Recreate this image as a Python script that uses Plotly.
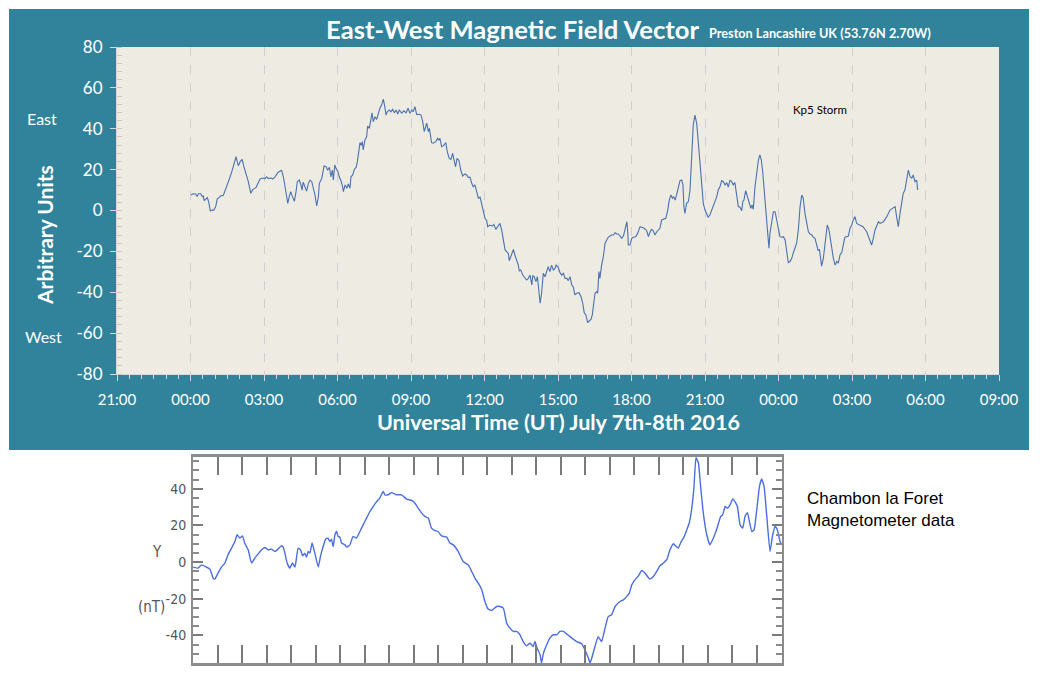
import plotly.graph_objects as go
import pandas as pd

# target page is 1041x678; the html body adds an 8px margin, so the figure is 16px smaller
OFF = 8
W, H = 1041 - 2 * OFF, 678 - 2 * OFF

# ---------------- data: Preston magnetometer (hours after 00:00 UT 7 July 2016) ----------------
top_hours = [
    0.02, 0.11, 0.21, 0.27, 0.32, 0.42, 0.48, 0.52, 0.56, 0.63,
    0.69, 0.74, 0.81, 0.87, 0.95, 1.03, 1.09, 1.16, 1.23, 1.34,
    1.41, 1.52, 1.60, 1.68, 1.76, 1.86, 1.91, 1.95, 2.03, 2.11,
    2.17, 2.28, 2.36, 2.46, 2.54, 2.60, 2.67, 2.74, 2.84, 2.95,
    3.04, 3.11, 3.18, 3.29, 3.36, 3.45, 3.58, 3.72, 3.79, 3.87,
    3.94, 3.97, 4.03, 4.09, 4.16, 4.24, 4.31, 4.36, 4.44, 4.51,
    4.55, 4.60, 4.67, 4.74, 4.81, 4.88, 4.95, 5.01, 5.08, 5.15,
    5.22, 5.26, 5.36, 5.45, 5.53, 5.60, 5.67, 5.73, 5.79, 5.83,
    5.89, 5.94, 6.02, 6.07, 6.13, 6.20, 6.24, 6.31, 6.38, 6.44,
    6.51, 6.55, 6.62, 6.69, 6.76, 6.81, 6.87, 6.92, 6.97, 7.01,
    7.05, 7.12, 7.19, 7.23, 7.30, 7.37, 7.41, 7.46, 7.53, 7.60,
    7.67, 7.73, 7.80, 7.87, 7.93, 7.98, 8.03, 8.11, 8.18, 8.25,
    8.32, 8.39, 8.46, 8.52, 8.62, 8.71, 8.80, 8.88, 8.96, 9.04,
    9.09, 9.16, 9.23, 9.34, 9.41, 9.48, 9.54, 9.64, 9.71, 9.75,
    9.84, 9.91, 10.01, 10.09, 10.14, 10.18, 10.25, 10.32, 10.42, 10.48,
    10.56, 10.63, 10.70, 10.77, 10.82, 10.88, 10.96, 11.03, 11.11, 11.20,
    11.27, 11.34, 11.41, 11.48, 11.54, 11.61, 11.68, 11.75, 11.82, 11.89,
    11.95, 12.02, 12.09, 12.13, 12.22, 12.32, 12.38, 12.46, 12.54, 12.63,
    12.70, 12.77, 12.84, 12.91, 12.97, 13.01, 13.08, 13.18, 13.24, 13.31,
    13.38, 13.42, 13.48, 13.56, 13.65, 13.72, 13.79, 13.86, 13.93, 13.97,
    14.03, 14.10, 14.16, 14.22, 14.27, 14.33, 14.40, 14.47, 14.54, 14.60,
    14.67, 14.74, 14.81, 14.88, 14.92, 15.01, 15.08, 15.15, 15.22, 15.29,
    15.36, 15.42, 15.49, 15.56, 15.62, 15.69, 15.76, 15.86, 15.94, 16.01,
    16.07, 16.14, 16.21, 16.28, 16.35, 16.40, 16.46, 16.51, 16.58, 16.62,
    16.67, 16.71, 16.78, 16.85, 16.92, 16.99, 17.05, 17.12, 17.19, 17.26,
    17.33, 17.40, 17.46, 17.53, 17.60, 17.67, 17.74, 17.81, 17.85, 17.87,
    17.94, 18.01, 18.07, 18.17, 18.25, 18.35, 18.42, 18.52, 18.62, 18.69,
    18.76, 18.82, 18.89, 18.96, 19.03, 19.09, 19.16, 19.23, 19.30, 19.40,
    19.48, 19.54, 19.61, 19.67, 19.72, 19.78, 19.84, 19.91, 19.98, 20.05,
    20.10, 20.14, 20.18, 20.25, 20.32, 20.39, 20.46, 20.52, 20.59, 20.66,
    20.73, 20.80, 20.87, 20.93, 21.00, 21.07, 21.13, 21.20, 21.27, 21.34,
    21.41, 21.48, 21.54, 21.61, 21.68, 21.75, 21.82, 21.89, 21.95, 22.02,
    22.09, 22.15, 22.22, 22.29, 22.36, 22.43, 22.50, 22.54, 22.59, 22.66,
    22.73, 22.80, 22.87, 22.92, 22.97, 23.04, 23.11, 23.18, 23.24, 23.30,
    23.36, 23.42, 23.49, 23.56, 23.61, 23.65, 23.72, 23.79, 23.86, 23.93,
    23.99, 24.06, 24.13, 24.20, 24.27, 24.33, 24.40, 24.47, 24.54, 24.60,
    24.67, 24.74, 24.81, 24.88, 24.95, 25.01, 25.08, 25.15, 25.22, 25.29,
    25.36, 25.42, 25.49, 25.56, 25.62, 25.67, 25.72, 25.76, 25.83, 25.90,
    25.99, 26.06, 26.13, 26.17, 26.24, 26.31, 26.38, 26.44, 26.51, 26.58,
    26.64, 26.71, 26.78, 26.85, 26.92, 26.99, 27.05, 27.12, 27.19, 27.33,
    27.45, 27.60, 27.73, 27.80, 27.87, 27.94, 28.08, 28.15, 28.28, 28.42,
    28.55, 28.66, 28.76, 28.82, 28.89, 28.96, 29.03, 29.09, 29.16, 29.23,
    29.30, 29.37, 29.44, 29.50, 29.57, 29.64, 29.68,
]
top_values = [
    7.6, 8.2, 8.1, 6.8, 8.2, 8.2, 6.8, 7.1, 4.8, 5.5,
    6.3, 4.2, -0.2, 0.2, 0.2, 1.9, 5.6, 6.3, 7.1, 7.4,
    9.5, 12.8, 15.9, 18.8, 21.8, 26.3, 23.9, 21.9, 23.9, 25.0,
    21.8, 17.9, 14.1, 8.4, 10.2, 10.7, 11.2, 13.0, 15.4, 15.9,
    15.6, 16.5, 15.6, 15.9, 15.4, 16.5, 18.7, 19.7, 16.5, 10.9,
    6.0, 3.5, 6.8, 9.2, 6.8, 4.5, 9.5, 14.1, 14.9, 12.5,
    10.0, 13.9, 11.6, 9.5, 13.3, 14.9, 14.1, 11.6, 7.6, 2.2,
    6.8, 13.3, 15.8, 21.8, 21.4, 19.8, 21.1, 16.5, 19.8, 14.9,
    22.3, 20.6, 19.0, 16.5, 14.9, 12.0, 9.2, 12.5, 10.9, 13.0,
    10.9, 16.5, 17.4, 20.2, 21.1, 23.9, 28.8, 33.2, 31.9, 33.7,
    29.6, 34.5, 36.1, 41.3, 40.2, 45.1, 47.8, 43.4, 45.9, 44.6,
    47.6, 50.0, 51.6, 54.5, 50.8, 46.7, 48.3, 49.2, 48.3, 49.5,
    47.8, 49.2, 47.2, 49.2, 47.6, 48.8, 47.8, 50.0, 47.6, 49.2,
    48.3, 50.8, 47.0, 47.1, 46.7, 43.4, 38.6, 42.7, 38.6, 40.2,
    33.2, 32.9, 33.7, 35.3, 34.5, 35.3, 31.2, 31.6, 33.2, 28.8,
    25.5, 25.0, 28.0, 23.9, 21.4, 25.5, 24.4, 19.8, 16.9, 17.9,
    17.4, 16.2, 16.2, 13.3, 11.6, 12.5, 8.4, 6.0, 6.5, 2.7,
    -0.1, -3.8, -5.0, -7.9, -7.1, -7.6, -6.8, -9.2, -7.9, -6.3,
    -9.5, -15.0, -19.3, -20.2, -21.0, -24.6, -22.6, -19.0, -21.8, -24.2,
    -26.7, -29.5, -29.1, -31.6, -33.2, -34.0, -33.2, -31.6, -36.4, -32.0,
    -32.4, -34.8, -32.4, -39.7, -45.4, -40.5, -30.7, -32.4, -29.9, -27.5,
    -29.9, -26.7, -29.1, -28.3, -26.7, -27.8, -30.4, -31.6, -30.7, -33.2,
    -33.2, -34.3, -32.4, -36.4, -37.3, -41.3, -40.5, -40.2, -42.2, -45.4,
    -50.0, -51.1, -54.9, -53.9, -53.2, -51.1, -45.4, -40.5, -39.7, -40.5,
    -29.9, -33.2, -26.7, -22.6, -16.0, -14.1, -13.1, -12.5, -12.0, -12.0,
    -10.9, -11.5, -11.5, -12.4, -13.6, -12.5, -9.5, -5.5, -11.2, -16.9,
    -16.9, -13.6, -13.1, -12.8, -11.2, -7.9, -8.2, -8.7, -9.9, -12.8,
    -10.4, -9.2, -9.9, -12.0, -10.4, -9.5, -8.7, -4.6, -4.3, -3.8,
    0.2, 5.1, 7.6, 6.0, 6.8, 5.1, 7.6, 11.6, 14.6, 14.9,
    12.5, 1.9, -1.4, 3.5, 4.3, 10.0, 24.7, 41.8, 46.7, 42.7,
    32.9, 21.4, 11.6, 3.5, 0.2, -2.2, -3.3, -2.2, 0.2, 2.2,
    5.1, 6.8, 10.0, 11.6, 14.6, 14.1, 12.5, 13.6, 11.4, 14.9,
    14.1, 12.5, 13.6, 7.6, 1.9, 1.6, -0.1, 4.3, 5.1, 9.7,
    6.8, 2.7, 1.1, 2.7, 0.6, 11.6, 18.2, 24.7, 27.2, 24.7,
    18.2, 10.0, -0.6, -11.2, -18.5, -11.2, -6.3, -0.6, -0.6, -4.6,
    -9.5, -12.8, -13.1, -12.8, -14.4, -20.9, -25.5, -25.0, -23.4, -20.9,
    -18.5, -16.0, -9.5, 1.9, 7.6, 6.0, -1.4, -7.1, -10.4, -11.5,
    -12.0, -13.1, -13.6, -16.9, -19.7, -19.0, -23.4, -27.2, -23.4, -15.3,
    -7.1, -9.5, -14.4, -19.3, -23.4, -26.7, -25.0, -25.8, -21.8, -20.6,
    -16.9, -13.1, -12.8, -12.5, -8.7, -7.1, -4.6, -3.0, -6.3, -7.1,
    -7.9, -10.4, -14.4, -16.9, -13.6, -9.5, -5.5, -6.3, -5.5, -3.0,
    0.2, 1.1, 1.9, -3.0, -7.9, -1.4, 5.1, 8.4, 10.0, 14.9,
    19.8, 16.5, 15.8, 17.4, 14.1, 14.9, 10.0,
]

# ---------------- data: Chambon la Foret magnetometer, Y component (hours of 7 July) ----------------
chambon_hours = [
    0.00, 0.21, 0.35, 0.55, 0.69, 0.82, 0.89, 1.02, 1.16, 1.30,
    1.43, 1.57, 1.71, 1.80, 1.91, 2.02, 2.11, 2.25, 2.39, 2.52,
    2.66, 2.80, 2.93, 3.07, 3.20, 3.34, 3.47, 3.61, 3.68, 3.75,
    3.84, 3.95, 4.06, 4.16, 4.29, 4.39, 4.47, 4.56, 4.63, 4.70,
    4.77, 4.86, 4.97, 5.11, 5.20, 5.31, 5.41, 5.51, 5.58, 5.65,
    5.72, 5.79, 5.86, 5.92, 5.99, 6.06, 6.20, 6.27, 6.40, 6.53,
    6.67, 6.81, 6.94, 7.08, 7.22, 7.35, 7.49, 7.62, 7.76, 7.83,
    7.96, 8.10, 8.31, 8.51, 8.71, 8.92, 9.05, 9.19, 9.33, 9.46,
    9.60, 9.73, 9.87, 10.00, 10.14, 10.35, 10.48, 10.62, 10.82, 11.02,
    11.23, 11.37, 11.50, 11.64, 11.78, 11.91, 12.04, 12.18, 12.39, 12.52,
    12.66, 12.80, 12.93, 13.07, 13.20, 13.34, 13.47, 13.61, 13.75, 13.88,
    13.95, 14.04, 14.16, 14.22, 14.29, 14.43, 14.56, 14.70, 14.84, 14.97,
    15.11, 15.24, 15.38, 15.51, 15.65, 15.86, 15.99, 16.13, 16.20, 16.27,
    16.40, 16.53, 16.67, 16.81, 16.94, 17.08, 17.22, 17.42, 17.56, 17.69,
    17.80, 17.90, 18.03, 18.17, 18.31, 18.44, 18.64, 18.78, 18.92, 19.05,
    19.19, 19.33, 19.46, 19.60, 19.71, 19.80, 19.90, 20.03, 20.17, 20.25,
    20.35, 20.44, 20.52, 20.62, 20.71, 20.82, 20.96, 21.09, 21.23, 21.37,
    21.53, 21.61, 21.71, 21.80, 21.91, 22.02, 22.11, 22.21, 22.32, 22.43,
    22.52, 22.62, 22.70, 22.80, 22.89, 23.00, 23.11, 23.20, 23.30, 23.41,
    23.54, 23.65, 23.75, 23.84, 23.95, 24.02,
]
chambon_values = [
    -2.7, -3.3, -1.5, -2.7, -3.8, -8.7, -9.3, -6.0, -2.7, -0.5,
    4.0, 7.6, 11.2, 14.9, 13.1, 14.3, 10.4, 6.7, -0.5, 2.2,
    4.5, 6.7, 8.0, 6.7, 7.1, 5.8, 7.1, 8.9, 8.2, 4.9,
    -0.5, -3.3, -0.5, -2.7, 7.6, 6.7, 3.4, 4.9, 2.7, 5.8,
    4.9, 10.4, 4.9, -2.7, 3.1, 8.5, 12.5, 13.1, 11.2, 12.5,
    8.5, 14.9, 16.7, 14.0, 13.6, 10.4, 9.4, 8.2, 9.4, 14.0,
    13.1, 16.7, 20.3, 24.0, 27.6, 30.3, 33.0, 34.9, 38.5, 36.7,
    36.7, 37.9, 36.7, 36.7, 34.4, 33.6, 32.2, 29.4, 26.7, 24.9,
    24.0, 18.5, 17.2, 16.7, 14.3, 13.6, 10.4, 9.4, 5.8, 0.3,
    -1.5, -5.1, -8.7, -11.5, -15.1, -21.5, -25.6, -26.4, -24.2, -24.2,
    -25.1, -33.3, -36.0, -37.8, -37.8, -39.6, -43.3, -45.6, -44.2, -46.0,
    -43.3, -46.9, -50.5, -55.0, -50.0, -45.1, -41.4, -39.6, -39.6, -37.8,
    -37.8, -39.1, -40.6, -42.0, -43.3, -44.5, -47.8, -52.3, -55.0, -52.3,
    -46.0, -40.6, -43.3, -36.0, -29.7, -28.7, -24.2, -21.5, -20.6, -18.8,
    -16.9, -12.4, -9.7, -7.5, -4.6, -6.0, -9.3, -7.9, -5.1, -2.0,
    -0.5, 1.3, 6.7, 10.0, 8.5, 7.6, 10.7, 13.6, 18.5, 21.6,
    29.4, 41.2, 57.0, 54.0, 41.2, 26.7, 14.9, 9.4, 13.1, 18.0,
    24.9, 25.8, 30.3, 29.4, 31.2, 34.4, 33.0, 30.3, 20.3, 18.5,
    24.9, 27.0, 22.1, 16.7, 17.6, 28.5, 41.2, 45.3, 41.2, 24.9,
    5.8, 14.9, 19.4, 17.6, 11.2, 9.4,
]

top_y_ticks = [-80, -60, -40, -20, 0, 20, 40, 60, 80]
top_y_labels = ["-80", "-60", "-40", "-20", "0", "20", "40", "60", "80"]
chambon_y_ticks = [-40, -20, 0, 20, 40]
chambon_y_labels = ["-40", "-20", "0", "20", "40"]

# ---------------- helpers: page pixel -> paper fraction ----------------
def px(x):
    return (x - OFF) / W

def py(y):
    return 1 - (y - OFF) / H

base = pd.Timestamp("2016-07-07 00:00")
top_times = base + pd.to_timedelta(top_hours, unit="h")

TEAL = "#31839b"
BEIGE = "#eeebe2"
FONT = "Lato"
NARROW = "DejaVu Sans Condensed"

fig = go.Figure()

fig.add_trace(go.Scatter(
    x=top_times, y=top_values, mode="lines",
    line=dict(color="#4a72b0", width=1.1),
    xaxis="x", yaxis="y", showlegend=False, hoverinfo="skip",
))
fig.add_trace(go.Scatter(
    x=chambon_hours, y=chambon_values, mode="lines",
    line=dict(color="#4a6ee0", width=1.4, shape="spline", smoothing=0.4),
    xaxis="x2", yaxis="y2", showlegend=False, hoverinfo="skip",
))

fig.update_layout(
    template="none",
    width=W, height=H,
    margin=dict(l=0, r=0, t=0, b=0, pad=0, autoexpand=False),
    paper_bgcolor="white",
    plot_bgcolor="rgba(0,0,0,0)",
    showlegend=False,
    xaxis=dict(
        domain=[px(117), px(999)],
        anchor="y",
        automargin=False,
        type="date",
        range=["2016-07-06 21:00", "2016-07-08 09:00"],
        dtick=3 * 3600 * 1000,
        tick0="2016-07-06 21:00",
        tickformat="%H:%M",
        ticks="outside", ticklen=6, tickcolor="#d8d8d8", tickwidth=1,
        minor=dict(dtick=1800 * 1000, ticks="outside", ticklen=4,
                   tickcolor="#d8d8d8", showgrid=False),
        showgrid=True, gridcolor="#cfcfcf", griddash="dash", gridwidth=1,
        showline=True, linecolor="#d8d8d8", linewidth=1,
        zeroline=False,
        tickfont=dict(family=FONT, size=15, color="white"),
        ticklabelstandoff=6,
        fixedrange=True,
    ),
    yaxis=dict(
        domain=[py(374), py(47)],
        anchor="x",
        automargin=False,
        range=[-80, 80],
        tickvals=top_y_ticks, ticktext=top_y_labels,
        ticks="outside", ticklen=6, tickcolor="#d8d8d8",
        minor=dict(dtick=4, ticks="inside", ticklen=5, tickcolor="#c8c8c8", showgrid=False),
        showgrid=False, zeroline=False,
        showline=True, linecolor="#d8d8d8", linewidth=1,
        tickfont=dict(family=FONT, size=17, color="white"),
        ticklabelstandoff=4,
        fixedrange=True,
    ),
    xaxis2=dict(
        domain=[px(193), px(782)],
        anchor="y2",
        automargin=False,
        range=[0, 24.03],
        dtick=1, tick0=0,
        ticks="inside", ticklen=18, tickcolor="#7a7a7a", tickwidth=1.5,
        showticklabels=False,
        showgrid=False, zeroline=False,
        showline=True, linecolor="#8c8c8c", linewidth=2.5, mirror="ticks",
        fixedrange=True,
    ),
    yaxis2=dict(
        domain=[py(663), py(457)],
        anchor="x2",
        automargin=False,
        range=[-55, 57.3],
        tickvals=chambon_y_ticks, ticktext=chambon_y_labels,
        ticks="inside", ticklen=10, tickcolor="#7a7a7a", tickwidth=1.5,
        minor=dict(dtick=5, tick0=0, ticks="inside", ticklen=6, tickcolor="#8a8a8a"),
        showgrid=False, zeroline=False,
        showline=True, linecolor="#8c8c8c", linewidth=2, mirror="ticks",
        tickfont=dict(family=NARROW, size=14, color="#555555"),
        ticklabelstandoff=2,
        fixedrange=True,
    ),
)

# backgrounds
fig.add_shape(type="rect", xref="paper", yref="paper",
              x0=px(9), x1=px(1029), y0=py(450), y1=py(9),
              fillcolor=TEAL, line=dict(width=0), layer="below")
fig.add_shape(type="rect", xref="x domain", yref="y domain",
              x0=0, x1=1, y0=0, y1=1,
              fillcolor=BEIGE, line=dict(width=0), layer="below")

def note(text, x, y, size, color="white", family=FONT, xanchor="center",
         yanchor="middle", angle=0, align="center"):
    fig.add_annotation(text=text, x=px(x), y=py(y), xref="paper", yref="paper",
                       showarrow=False, xanchor=xanchor, yanchor=yanchor,
                       textangle=angle, align=align,
                       font=dict(family=family, size=size, color=color))

note("<b>East-West Magnetic Field Vector</b>", 701, 29, 25.6, xanchor="right")
note("<b>Preston Lancashire UK (53.76N 2.70W)</b>", 707, 33, 12.7, xanchor="left")
note("<b>Arbitrary Units</b>", 45, 235, 21, angle=-90)
note("<b>Universal Time (UT) July 7th-8th 2016</b>", 558, 422, 21.5)
note("East", 42, 118, 16)
note("West", 43, 336, 16)
note("Kp5 Storm", 820, 109, 11.5, color="black")

note("Chambon la Foret<br>Magnetometer data", 805, 487, 17, color="black",
     family="Liberation Sans", xanchor="left", yanchor="top", align="left")
note("Y", 157, 552, 15, color="#555555", family=NARROW)
note("(nT)", 151, 607, 15, color="#555555", family=NARROW)

fig.write_html("out.html")
